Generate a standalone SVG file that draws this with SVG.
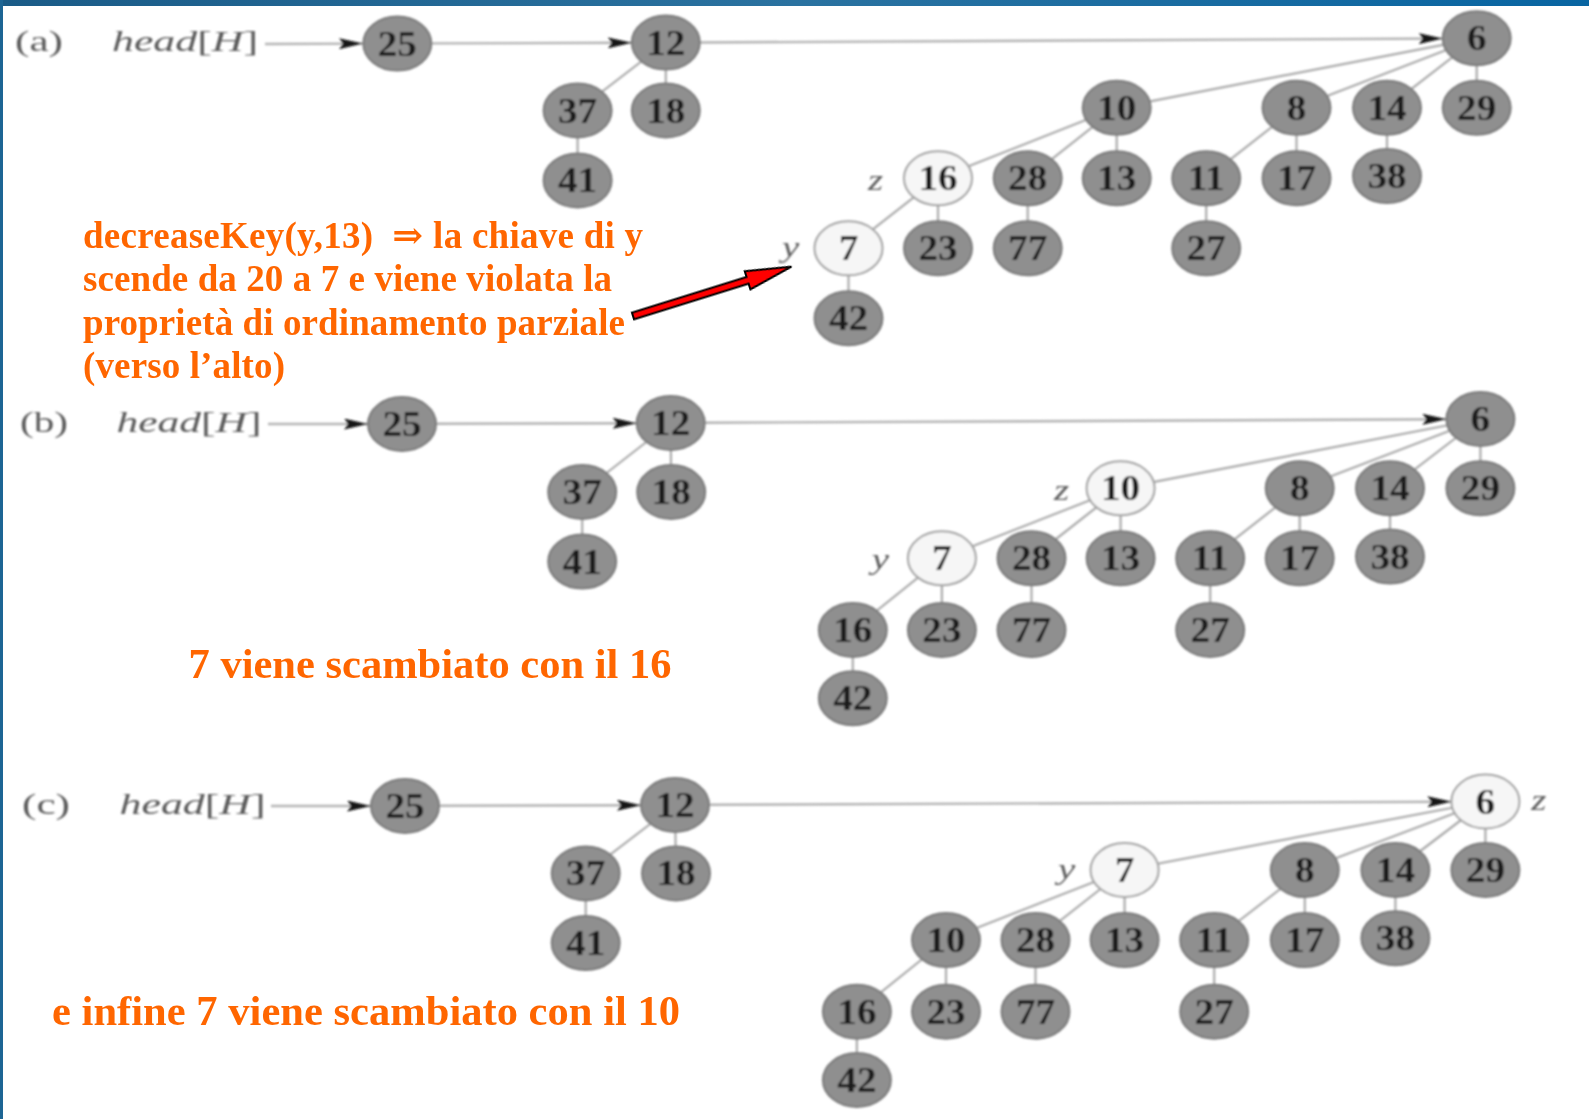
<svg xmlns="http://www.w3.org/2000/svg" width="1589" height="1119" viewBox="0 0 1589 1119">
  <style>
    .edge { stroke: #a9a9a9; stroke-width: 2.2; fill: none; }
    .list { stroke: #b3b3b3; stroke-width: 2.4; fill: none; marker-end: url(#tip); }
    .node ellipse { fill: #8f8f8f; stroke: #7a7a7a; stroke-width: 2; }
    .node.mark ellipse { fill: #f6f6f6; stroke: #a0a0a0; stroke-width: 2; }
    .node text { font-family: "Liberation Serif", "Times New Roman", serif; font-weight: bold; font-size: 35px; text-anchor: middle; fill: #1c1c1c; }
    .tag { font-family: "Liberation Serif", "Times New Roman", serif; font-style: italic; font-size: 30px; text-anchor: middle; fill: #5c5c5c; }
    .hdr { font-family: "Liberation Serif", "Times New Roman", serif; font-size: 30px; fill: #5a5a5a; }
    .hdr .it { font-style: italic; }
    .note { font-family: "Liberation Serif", "DejaVu Serif", "Times New Roman", serif; font-weight: bold; fill: #ff6600; white-space: pre; }
  </style>
  <defs>
    <linearGradient id="bar" x1="0" y1="0" x2="1" y2="0">
      <stop offset="0" stop-color="#1a5b87"/>
      <stop offset="0.5" stop-color="#2a72a0"/>
      <stop offset="1" stop-color="#0865a2"/>
    </linearGradient>
    <marker id="tip" markerUnits="userSpaceOnUse" markerWidth="24" markerHeight="11" refX="24" refY="5.5" orient="auto">
      <path d="M0,0 L24,5.5 L0,11 L4,5.5 z" fill="#151515"/>
    </marker>
    <filter id="soft" x="-5%" y="-5%" width="110%" height="110%">
      <feGaussianBlur stdDeviation="0.8"/>
    </filter>
  </defs>

  <!-- page frame -->
  <rect x="0" y="0" width="1589" height="1119" fill="#ffffff"/>
  <rect x="0" y="0" width="1589" height="6" fill="url(#bar)"/>
  <rect x="0" y="0" width="3" height="1119" fill="#1d6594"/>

  <!-- ===================== (a) ===================== -->
  <g id="panel-a" filter="url(#soft)">
    <text class="hdr" x="15" y="51" textLength="48" lengthAdjust="spacingAndGlyphs">(a)</text>
    <text class="hdr" x="112" y="51" textLength="146" lengthAdjust="spacingAndGlyphs"><tspan class="it">head</tspan>[<tspan class="it">H</tspan>]</text>
    <g id="a-connectors">
      <line class="list" x1="265" y1="44" x2="363" y2="43.6"/>
      <line class="list" x1="431.3" y1="43.4" x2="631.8" y2="42.8"/>
      <line class="list" x1="699.8" y1="42.5" x2="1442.7" y2="38.5"/>
      <line class="edge" x1="665.8" y1="42.6" x2="577.6" y2="110.5"/>
      <line class="edge" x1="665.8" y1="42.6" x2="665.8" y2="110.5"/>
      <line class="edge" x1="577.6" y1="110.5" x2="577.6" y2="180.4"/>
      <line class="edge" x1="1476.7" y1="38.3" x2="1116.7" y2="107.8"/>
      <line class="edge" x1="1476.7" y1="38.3" x2="1296.5" y2="107.8"/>
      <line class="edge" x1="1476.7" y1="38.3" x2="1387" y2="107.8"/>
      <line class="edge" x1="1476.7" y1="38.3" x2="1476.7" y2="107.8"/>
      <line class="edge" x1="1116.7" y1="107.8" x2="938" y2="178.3"/>
      <line class="edge" x1="1116.7" y1="107.8" x2="1027.7" y2="178.3"/>
      <line class="edge" x1="1116.7" y1="107.8" x2="1116.7" y2="178.3"/>
      <line class="edge" x1="1296.5" y1="107.8" x2="1206.2" y2="178.3"/>
      <line class="edge" x1="1296.5" y1="107.8" x2="1296.5" y2="178.3"/>
      <line class="edge" x1="1387" y1="107.8" x2="1387" y2="176"/>
      <line class="edge" x1="938" y1="178.3" x2="848.5" y2="248.3"/>
      <line class="edge" x1="938" y1="178.3" x2="938" y2="248.3"/>
      <line class="edge" x1="1027.7" y1="178.3" x2="1027.7" y2="248.3"/>
      <line class="edge" x1="1206.2" y1="178.3" x2="1206.2" y2="248.3"/>
      <line class="edge" x1="848.5" y1="248.3" x2="848.5" y2="318.3"/>
    </g>
    <g id="a-25" class="node" transform="translate(397.3,43.6)"><ellipse rx="34" ry="27"/><text y="12" transform="scale(1.12,1)">25</text></g>
    <g id="a-12" class="node" transform="translate(665.8,42.6)"><ellipse rx="34" ry="27"/><text y="12" transform="scale(1.12,1)">12</text></g>
    <g id="a-37" class="node" transform="translate(577.6,110.5)"><ellipse rx="34" ry="27"/><text y="12" transform="scale(1.12,1)">37</text></g>
    <g id="a-18" class="node" transform="translate(665.8,110.5)"><ellipse rx="34" ry="27"/><text y="12" transform="scale(1.12,1)">18</text></g>
    <g id="a-41" class="node" transform="translate(577.6,180.4)"><ellipse rx="34" ry="27"/><text y="12" transform="scale(1.12,1)">41</text></g>
    <g id="a-6" class="node" transform="translate(1476.7,38.3)"><ellipse rx="34" ry="27"/><text y="12" transform="scale(1.12,1)">6</text></g>
    <g id="a-10" class="node" transform="translate(1116.7,107.8)"><ellipse rx="34" ry="27"/><text y="12" transform="scale(1.12,1)">10</text></g>
    <g id="a-8" class="node" transform="translate(1296.5,107.8)"><ellipse rx="34" ry="27"/><text y="12" transform="scale(1.12,1)">8</text></g>
    <g id="a-14" class="node" transform="translate(1387,107.8)"><ellipse rx="34" ry="27"/><text y="12" transform="scale(1.12,1)">14</text></g>
    <g id="a-29" class="node" transform="translate(1476.7,107.8)"><ellipse rx="34" ry="27"/><text y="12" transform="scale(1.12,1)">29</text></g>
    <g id="a-16" class="node mark" transform="translate(938,178.3)"><ellipse rx="34" ry="27"/><text y="12" transform="scale(1.12,1)">16</text></g>
    <g id="a-28" class="node" transform="translate(1027.7,178.3)"><ellipse rx="34" ry="27"/><text y="12" transform="scale(1.12,1)">28</text></g>
    <g id="a-13" class="node" transform="translate(1116.7,178.3)"><ellipse rx="34" ry="27"/><text y="12" transform="scale(1.12,1)">13</text></g>
    <g id="a-11" class="node" transform="translate(1206.2,178.3)"><ellipse rx="34" ry="27"/><text y="12" transform="scale(1.12,1)">11</text></g>
    <g id="a-17" class="node" transform="translate(1296.5,178.3)"><ellipse rx="34" ry="27"/><text y="12" transform="scale(1.12,1)">17</text></g>
    <g id="a-38" class="node" transform="translate(1387,176)"><ellipse rx="34" ry="27"/><text y="12" transform="scale(1.12,1)">38</text></g>
    <g id="a-7" class="node mark" transform="translate(848.5,248.3)"><ellipse rx="34" ry="27"/><text y="12" transform="scale(1.12,1)">7</text></g>
    <g id="a-23" class="node" transform="translate(938,248.3)"><ellipse rx="34" ry="27"/><text y="12" transform="scale(1.12,1)">23</text></g>
    <g id="a-77" class="node" transform="translate(1027.7,248.3)"><ellipse rx="34" ry="27"/><text y="12" transform="scale(1.12,1)">77</text></g>
    <g id="a-27" class="node" transform="translate(1206.2,248.3)"><ellipse rx="34" ry="27"/><text y="12" transform="scale(1.12,1)">27</text></g>
    <g id="a-42" class="node" transform="translate(848.5,318.3)"><ellipse rx="34" ry="27"/><text y="12" transform="scale(1.12,1)">42</text></g>
    <text class="tag" transform="translate(875.7,190) scale(1.3,1)">z</text>
    <text class="tag" transform="translate(790.7,257) scale(1.3,1)">y</text>
  </g>

  <!-- note on the decrease of y -->
  <g id="note-a">
    <text class="note" x="83" y="247.5" font-size="37" textLength="560">decreaseKey(y,13)  ⇒ la chiave di y</text>
    <text class="note" x="83" y="291" font-size="37" textLength="529">scende da 20 a 7 e viene violata la</text>
    <text class="note" x="83" y="334.5" font-size="37" textLength="542">proprietà di ordinamento parziale</text>
    <text class="note" x="83" y="378" font-size="37" textLength="202">(verso l’alto)</text>
    <polygon points="0,-3.5 120,-3.5 120,-9.5 166,0 120,9.5 120,3.5 0,3.5" fill="#ff0000" stroke="#000" stroke-width="2" stroke-linejoin="miter" transform="translate(633,316) rotate(-17.3)"/>
  </g>

  <!-- ===================== (b) ===================== -->
  <g id="panel-b" filter="url(#soft)">
    <text class="hdr" x="20" y="432" textLength="48" lengthAdjust="spacingAndGlyphs">(b)</text>
    <text class="hdr" x="116.5" y="432" textLength="145" lengthAdjust="spacingAndGlyphs"><tspan class="it">head</tspan>[<tspan class="it">H</tspan>]</text>
    <g id="b-connectors">
      <line class="list" x1="268" y1="424" x2="368" y2="424"/>
      <line class="list" x1="436" y1="423.8" x2="636.7" y2="423.2"/>
      <line class="list" x1="704.7" y1="422.8" x2="1446.4" y2="419.2"/>
      <line class="edge" x1="670.7" y1="423" x2="582.2" y2="492"/>
      <line class="edge" x1="670.7" y1="423" x2="671.2" y2="492"/>
      <line class="edge" x1="582.2" y1="492" x2="582.2" y2="561.5"/>
      <line class="edge" x1="1480.4" y1="419" x2="1120.6" y2="488.3"/>
      <line class="edge" x1="1480.4" y1="419" x2="1299.7" y2="488.3"/>
      <line class="edge" x1="1480.4" y1="419" x2="1390" y2="488.3"/>
      <line class="edge" x1="1480.4" y1="419" x2="1480.4" y2="488.3"/>
      <line class="edge" x1="1120.6" y1="488.3" x2="941.9" y2="558.3"/>
      <line class="edge" x1="1120.6" y1="488.3" x2="1031.5" y2="558.3"/>
      <line class="edge" x1="1120.6" y1="488.3" x2="1120.6" y2="558.3"/>
      <line class="edge" x1="1299.7" y1="488.3" x2="1210.2" y2="558.3"/>
      <line class="edge" x1="1299.7" y1="488.3" x2="1299.7" y2="558.3"/>
      <line class="edge" x1="1390" y1="488.3" x2="1390" y2="556.5"/>
      <line class="edge" x1="941.9" y1="558.3" x2="852.8" y2="630"/>
      <line class="edge" x1="941.9" y1="558.3" x2="941.9" y2="630"/>
      <line class="edge" x1="1031.5" y1="558.3" x2="1031.5" y2="630"/>
      <line class="edge" x1="1210.2" y1="558.3" x2="1210.2" y2="630"/>
      <line class="edge" x1="852.8" y1="630" x2="852.8" y2="698.3"/>
    </g>
    <g id="b-25" class="node" transform="translate(402,424)"><ellipse rx="34" ry="27"/><text y="12" transform="scale(1.12,1)">25</text></g>
    <g id="b-12" class="node" transform="translate(670.7,423)"><ellipse rx="34" ry="27"/><text y="12" transform="scale(1.12,1)">12</text></g>
    <g id="b-37" class="node" transform="translate(582.2,492)"><ellipse rx="34" ry="27"/><text y="12" transform="scale(1.12,1)">37</text></g>
    <g id="b-18" class="node" transform="translate(671.2,492)"><ellipse rx="34" ry="27"/><text y="12" transform="scale(1.12,1)">18</text></g>
    <g id="b-41" class="node" transform="translate(582.2,561.5)"><ellipse rx="34" ry="27"/><text y="12" transform="scale(1.12,1)">41</text></g>
    <g id="b-6" class="node" transform="translate(1480.4,419)"><ellipse rx="34" ry="27"/><text y="12" transform="scale(1.12,1)">6</text></g>
    <g id="b-10" class="node mark" transform="translate(1120.6,488.3)"><ellipse rx="34" ry="27"/><text y="12" transform="scale(1.12,1)">10</text></g>
    <g id="b-8" class="node" transform="translate(1299.7,488.3)"><ellipse rx="34" ry="27"/><text y="12" transform="scale(1.12,1)">8</text></g>
    <g id="b-14" class="node" transform="translate(1390,488.3)"><ellipse rx="34" ry="27"/><text y="12" transform="scale(1.12,1)">14</text></g>
    <g id="b-29" class="node" transform="translate(1480.4,488.3)"><ellipse rx="34" ry="27"/><text y="12" transform="scale(1.12,1)">29</text></g>
    <g id="b-7" class="node mark" transform="translate(941.9,558.3)"><ellipse rx="34" ry="27"/><text y="12" transform="scale(1.12,1)">7</text></g>
    <g id="b-28" class="node" transform="translate(1031.5,558.3)"><ellipse rx="34" ry="27"/><text y="12" transform="scale(1.12,1)">28</text></g>
    <g id="b-13" class="node" transform="translate(1120.6,558.3)"><ellipse rx="34" ry="27"/><text y="12" transform="scale(1.12,1)">13</text></g>
    <g id="b-11" class="node" transform="translate(1210.2,558.3)"><ellipse rx="34" ry="27"/><text y="12" transform="scale(1.12,1)">11</text></g>
    <g id="b-17" class="node" transform="translate(1299.7,558.3)"><ellipse rx="34" ry="27"/><text y="12" transform="scale(1.12,1)">17</text></g>
    <g id="b-38" class="node" transform="translate(1390,556.5)"><ellipse rx="34" ry="27"/><text y="12" transform="scale(1.12,1)">38</text></g>
    <g id="b-16" class="node" transform="translate(852.8,630)"><ellipse rx="34" ry="27"/><text y="12" transform="scale(1.12,1)">16</text></g>
    <g id="b-23" class="node" transform="translate(941.9,630)"><ellipse rx="34" ry="27"/><text y="12" transform="scale(1.12,1)">23</text></g>
    <g id="b-77" class="node" transform="translate(1031.5,630)"><ellipse rx="34" ry="27"/><text y="12" transform="scale(1.12,1)">77</text></g>
    <g id="b-27" class="node" transform="translate(1210.2,630)"><ellipse rx="34" ry="27"/><text y="12" transform="scale(1.12,1)">27</text></g>
    <g id="b-42" class="node" transform="translate(852.8,698.3)"><ellipse rx="34" ry="27"/><text y="12" transform="scale(1.12,1)">42</text></g>
    <text class="tag" transform="translate(1061.7,500) scale(1.3,1)">z</text>
    <text class="tag" transform="translate(880.5,568.5) scale(1.3,1)">y</text>
  </g>

  <text id="note-b" class="note" x="188.5" y="678" font-size="42.5" textLength="483">7 viene scambiato con il 16</text>

  <!-- ===================== (c) ===================== -->
  <g id="panel-c" filter="url(#soft)">
    <text class="hdr" x="22" y="814" textLength="48" lengthAdjust="spacingAndGlyphs">(c)</text>
    <text class="hdr" x="119.6" y="814" textLength="146" lengthAdjust="spacingAndGlyphs"><tspan class="it">head</tspan>[<tspan class="it">H</tspan>]</text>
    <g id="c-connectors">
      <line class="list" x1="271" y1="806" x2="371" y2="806"/>
      <line class="list" x1="439" y1="805.8" x2="641" y2="805.2"/>
      <line class="list" x1="709" y1="804.8" x2="1451.4" y2="801.7"/>
      <line class="edge" x1="675" y1="805" x2="585.7" y2="873.4"/>
      <line class="edge" x1="675" y1="805" x2="676" y2="873.4"/>
      <line class="edge" x1="585.7" y1="873.4" x2="585.7" y2="943"/>
      <line class="edge" x1="1485.4" y1="801.5" x2="1124.6" y2="870"/>
      <line class="edge" x1="1485.4" y1="801.5" x2="1304.8" y2="870"/>
      <line class="edge" x1="1485.4" y1="801.5" x2="1395.4" y2="870"/>
      <line class="edge" x1="1485.4" y1="801.5" x2="1485.4" y2="870"/>
      <line class="edge" x1="1124.6" y1="870" x2="946" y2="940"/>
      <line class="edge" x1="1124.6" y1="870" x2="1035.5" y2="940"/>
      <line class="edge" x1="1124.6" y1="870" x2="1124.6" y2="940"/>
      <line class="edge" x1="1304.8" y1="870" x2="1214.2" y2="940"/>
      <line class="edge" x1="1304.8" y1="870" x2="1304.8" y2="940"/>
      <line class="edge" x1="1395.4" y1="870" x2="1395.4" y2="938.3"/>
      <line class="edge" x1="946" y1="940" x2="856.9" y2="1011.7"/>
      <line class="edge" x1="946" y1="940" x2="946" y2="1011.7"/>
      <line class="edge" x1="1035.5" y1="940" x2="1035.5" y2="1011.7"/>
      <line class="edge" x1="1214.2" y1="940" x2="1214.2" y2="1011.7"/>
      <line class="edge" x1="856.9" y1="1011.7" x2="856.9" y2="1080"/>
    </g>
    <g id="c-25" class="node" transform="translate(405,806)"><ellipse rx="34" ry="27"/><text y="12" transform="scale(1.12,1)">25</text></g>
    <g id="c-12" class="node" transform="translate(675,805)"><ellipse rx="34" ry="27"/><text y="12" transform="scale(1.12,1)">12</text></g>
    <g id="c-37" class="node" transform="translate(585.7,873.4)"><ellipse rx="34" ry="27"/><text y="12" transform="scale(1.12,1)">37</text></g>
    <g id="c-18" class="node" transform="translate(676,873.4)"><ellipse rx="34" ry="27"/><text y="12" transform="scale(1.12,1)">18</text></g>
    <g id="c-41" class="node" transform="translate(585.7,943)"><ellipse rx="34" ry="27"/><text y="12" transform="scale(1.12,1)">41</text></g>
    <g id="c-6" class="node mark" transform="translate(1485.4,801.5)"><ellipse rx="34" ry="27"/><text y="12" transform="scale(1.12,1)">6</text></g>
    <g id="c-7" class="node mark" transform="translate(1124.6,870)"><ellipse rx="34" ry="27"/><text y="12" transform="scale(1.12,1)">7</text></g>
    <g id="c-8" class="node" transform="translate(1304.8,870)"><ellipse rx="34" ry="27"/><text y="12" transform="scale(1.12,1)">8</text></g>
    <g id="c-14" class="node" transform="translate(1395.4,870)"><ellipse rx="34" ry="27"/><text y="12" transform="scale(1.12,1)">14</text></g>
    <g id="c-29" class="node" transform="translate(1485.4,870)"><ellipse rx="34" ry="27"/><text y="12" transform="scale(1.12,1)">29</text></g>
    <g id="c-10" class="node" transform="translate(946,940)"><ellipse rx="34" ry="27"/><text y="12" transform="scale(1.12,1)">10</text></g>
    <g id="c-28" class="node" transform="translate(1035.5,940)"><ellipse rx="34" ry="27"/><text y="12" transform="scale(1.12,1)">28</text></g>
    <g id="c-13" class="node" transform="translate(1124.6,940)"><ellipse rx="34" ry="27"/><text y="12" transform="scale(1.12,1)">13</text></g>
    <g id="c-11" class="node" transform="translate(1214.2,940)"><ellipse rx="34" ry="27"/><text y="12" transform="scale(1.12,1)">11</text></g>
    <g id="c-17" class="node" transform="translate(1304.8,940)"><ellipse rx="34" ry="27"/><text y="12" transform="scale(1.12,1)">17</text></g>
    <g id="c-38" class="node" transform="translate(1395.4,938.3)"><ellipse rx="34" ry="27"/><text y="12" transform="scale(1.12,1)">38</text></g>
    <g id="c-16" class="node" transform="translate(856.9,1011.7)"><ellipse rx="34" ry="27"/><text y="12" transform="scale(1.12,1)">16</text></g>
    <g id="c-23" class="node" transform="translate(946,1011.7)"><ellipse rx="34" ry="27"/><text y="12" transform="scale(1.12,1)">23</text></g>
    <g id="c-77" class="node" transform="translate(1035.5,1011.7)"><ellipse rx="34" ry="27"/><text y="12" transform="scale(1.12,1)">77</text></g>
    <g id="c-27" class="node" transform="translate(1214.2,1011.7)"><ellipse rx="34" ry="27"/><text y="12" transform="scale(1.12,1)">27</text></g>
    <g id="c-42" class="node" transform="translate(856.9,1080)"><ellipse rx="34" ry="27"/><text y="12" transform="scale(1.12,1)">42</text></g>
    <text class="tag" transform="translate(1066.7,878.5) scale(1.3,1)">y</text>
    <text class="tag" transform="translate(1538.8,810) scale(1.3,1)">z</text>
  </g>

  <text id="note-c" class="note" x="52" y="1025" font-size="42.5" textLength="628">e infine 7 viene scambiato con il 10</text>
</svg>
